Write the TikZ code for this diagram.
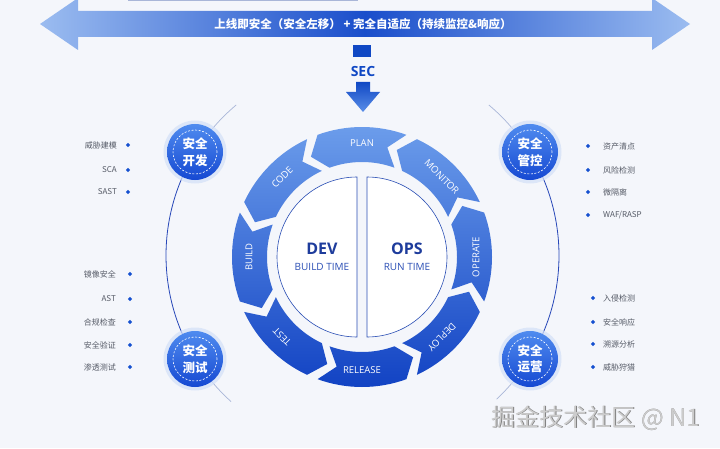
\documentclass[tikz,border=0pt]{standalone}
\usepackage{fontspec}
\setmainfont{Open Sans}
\newfontfamily\cjk{Noto Sans CJK SC}
\usetikzlibrary{calc,shapes.geometric}
\definecolor{bg}{HTML}{F4F6FB}
\definecolor{arrlight}{HTML}{9BBCF0}
\definecolor{arrdark}{HTML}{1A4ECB}
\definecolor{secblue}{HTML}{1048C4}
\definecolor{seclight}{HTML}{5A8EE8}
\definecolor{segtop}{HTML}{6C9DEB}
\definecolor{segbot}{HTML}{1142C3}
\definecolor{badgetop}{HTML}{4F8BEF}
\definecolor{badgebot}{HTML}{1649D2}
\definecolor{halo}{HTML}{D3E0F8}
\definecolor{devblue}{HTML}{1E3C9C}
\definecolor{subblue}{HTML}{2B4FB5}
\definecolor{sidedark}{HTML}{2747B8}
\definecolor{sidelight}{HTML}{A9B6D8}
\definecolor{itemgray}{HTML}{555A66}
\definecolor{diablue}{HTML}{1550D0}
\tikzset{
  seglabel/.style={text=white, font=\fontsize{9.5}{10}\selectfont, inner sep=0},
  badge/.style={circle, minimum size=56pt, inner sep=0, top color=badgetop, bottom color=badgebot,
     text=white, font=\cjk\bfseries\fontsize{12.5}{16.5}\selectfont, align=center},
  badgedash/.style={white, line width=0.6pt, dash pattern=on 2pt off 1.6pt},
  dia/.style={diamond, fill=diablue, minimum size=4.5pt, inner sep=0},
  itemL/.style={anchor=east, text=itemgray, font=\cjk\fontsize{8}{8}\selectfont, inner sep=0},
  itemR/.style={anchor=west, text=itemgray, font=\cjk\fontsize{8}{8}\selectfont, inner sep=0},
  sideline/.style={sidedark, line width=0.8pt},
  sidefade/.style={sidelight, line width=0.7pt},
  halfdisc/.style={draw=subblue, line width=0.6pt, fill=white}
}
\begin{document}
\begin{tikzpicture}[x=1pt,y=1pt]
\useasboundingbox (0,0) rectangle (720,448);
\fill[bg] (0,0) rectangle (720,448);
\draw[sidelight, line width=0.8pt] (128,447.6) -- (358,447.6);

% top double arrow
\shade[left color=arrlight, right color=arrlight, middle color=arrdark]
  (40,424) -- (78,450) -- (78,437) -- (652,437) -- (652,450) -- (690,424)
  -- (652,398) -- (652,411) -- (78,411) -- (78,398) -- cycle;
\node[text=white, font=\cjk\bfseries\fontsize{11.5}{12}\selectfont] (title) at (363,424)
  {上线即安全（安全左移） + 完全自适应（持续监控\&响应）};

% SEC
\node[fill=secblue, minimum width=18pt, minimum height=12pt, inner sep=0] (secsq) at (362,397) {};
\node[text=secblue, font=\bfseries\fontsize{14}{14}\selectfont] (sec) at (363,376) {SEC};
\shade[top color=secblue, bottom color=seclight]
  (356,366) -- (370,366) -- (370,356) -- (380,356) -- (363,336) -- (346,356) -- (356,356) -- cycle;

% side arcs
\coordinate (O) at (362.5,192.5);
\draw[sidefade] ([shift={(148.2:196.5)}]O) arc[start angle=148.2, end angle=130, radius=196.5];
\draw[sidefade] ([shift={(211.8:196.5)}]O) arc[start angle=211.8, end angle=228, radius=196.5];
\draw[sidefade] ([shift={(31.8:196.5)}]O) arc[start angle=31.8, end angle=50, radius=196.5];
\draw[sidefade] ([shift={(-31.8:196.5)}]O) arc[start angle=-31.8, end angle=-47, radius=196.5];
\draw[sideline] ([shift={(148.2:196.5)}]O) arc[start angle=148.2, end angle=211.8, radius=196.5];
\draw[sideline] ([shift={(31.8:196.5)}]O) arc[start angle=31.8, end angle=-31.8, radius=196.5];

% ring
\begin{scope}[shift={(362,191)}]
\shade[top color=segtop, bottom color=segbot]
  \foreach \a in {90,135,...,405} {
    ({\a-20}:130) arc[start angle=\a-20, end angle=\a+20, radius=130]
    -- ({\a+27}:112.5) -- ({\a+20}:95)
    arc[start angle=\a+20, end angle=\a-20, radius=95]
    -- ({\a-13}:112.5) -- cycle
  };
\node[seglabel, rotate=0] (plan) at (90:114) {PLAN};
\node[seglabel, rotate=-45] (monitor) at (45:113) {MONITOR};
\node[seglabel, rotate=90] (operate) at (0:114) {OPERATE};
\node[seglabel, rotate=-135] (deploy) at (-45:113) {DEPLOY};
\node[seglabel, rotate=0] (release) at (-90:113) {RELEASE};
\node[seglabel, rotate=135] (test) at (-135:113) {TEST};
\node[seglabel, rotate=90] (build) at (180:113) {BUILD};
\node[seglabel, rotate=45] (code) at (135:113) {CODE};
\draw[halfdisc] (-5,80) arc[start angle=90, end angle=270, radius=80] -- cycle;
\draw[halfdisc] (5,-80) arc[start angle=-90, end angle=90, radius=80] -- cycle;
\node[text=devblue, font=\bfseries\fontsize{16}{16}\selectfont] (dev) at (-40,8) {DEV};
\node[text=subblue, font=\fontsize{10}{10}\selectfont] (bt) at (-40,-10) {BUILD TIME};
\node[text=devblue, font=\bfseries\fontsize{16}{16}\selectfont] (ops) at (45,8) {OPS};
\node[text=subblue, font=\fontsize{10}{10}\selectfont] (rt) at (45,-10) {RUN TIME};
\end{scope}

% badges
\foreach \p in {(195,296),(530,296),(195,89),(530,89)} {
  \fill[halo, opacity=0.7] \p circle (31.5);
}
\node[badge] (b1) at (195,296) {安全\\开发};
\node[badge] (b2) at (530,296) {安全\\管控};
\node[badge] (b3) at (195,89) {安全\\测试};
\node[badge] (b4) at (530,89) {安全\\运营};
\foreach \b in {b1,b2,b3,b4} {
  \draw[badgedash] (\b.center) circle (22);
}

% left items (dev)
\node[dia] (d11) at (128,303) {};  \node[itemL] (t11) at (117,303) {威胁建模};
\node[dia] (d12) at (128,278) {};  \node[itemL] (t12) at (117,278) {SCA};
\node[dia] (d13) at (128,256) {};  \node[itemL] (t13) at (117,256) {SAST};
% left items (test)
\node[dia] (d31) at (130,174) {};  \node[itemL] (t31) at (116,174) {镜像安全};
\node[dia] (d32) at (130,149) {};  \node[itemL] (t32) at (116,149) {AST};
\node[dia] (d33) at (130,126) {};  \node[itemL] (t33) at (116,126) {合规检查};
\node[dia] (d34) at (130,103) {};  \node[itemL] (t34) at (116,103) {安全验证};
\node[dia] (d35) at (130,81) {};   \node[itemL] (t35) at (116,81) {渗透测试};
% right items (control)
\node[dia] (d21) at (588,302) {};  \node[itemR] (t21) at (603,302) {资产清点};
\node[dia] (d22) at (588,278) {};  \node[itemR] (t22) at (603,278) {风险检测};
\node[dia] (d23) at (588,256) {};  \node[itemR] (t23) at (603,256) {微隔离};
\node[dia] (d24) at (588,233) {};  \node[itemR] (t24) at (603,233) {WAF/RASP};
% right items (ops)
\node[dia] (d41) at (593,150) {};  \node[itemR] (t41) at (603,150) {入侵检测};
\node[dia] (d42) at (593,126) {};  \node[itemR] (t42) at (603,126) {安全响应};
\node[dia] (d43) at (593,104) {};  \node[itemR] (t43) at (603,104) {溯源分析};
\node[dia] (d44) at (593,81) {};   \node[itemR] (t44) at (603,81) {威胁狩猎};

% watermark
\node[text=black!50, font=\cjk\fontsize{24}{24}\selectfont] (wms) at (596.6,29.4) {掘金技术社区 @ N1};
\node[text=black!20, font=\cjk\fontsize{24}{24}\selectfont] (wm) at (596,30) {掘金技术社区 @ N1};
\end{tikzpicture}
\end{document}
